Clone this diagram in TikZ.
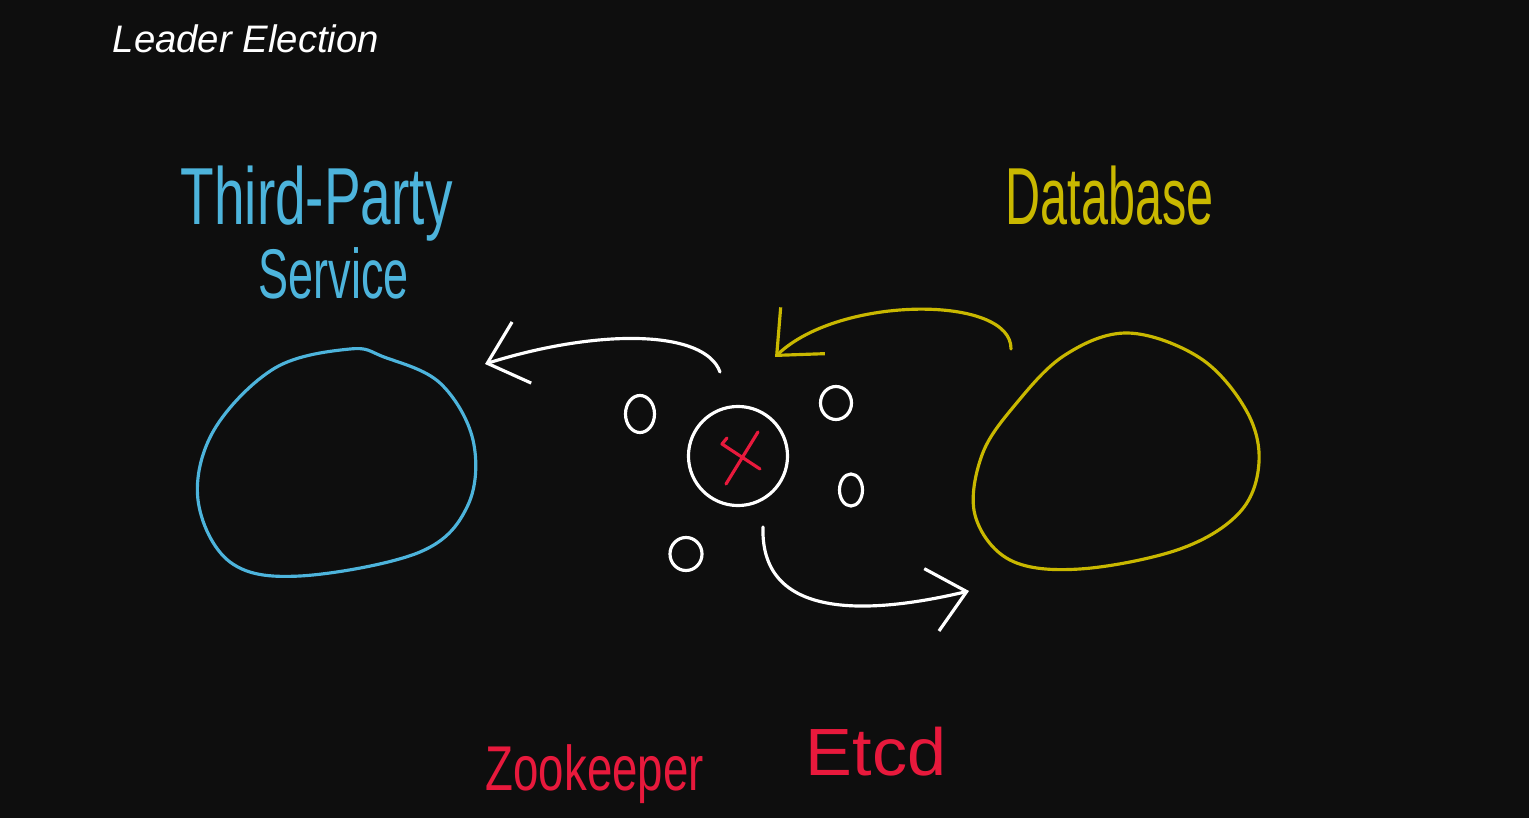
\documentclass[tikz,border=0pt]{standalone}
\usepackage{fontspec}
\setmainfont{Liberation Sans}
\usetikzlibrary{arrows.meta,shapes.geometric}
\definecolor{board}{HTML}{0E0E0E}
\definecolor{chalkblue}{HTML}{4DB4DC}
\definecolor{chalkyellow}{HTML}{C9B800}
\definecolor{chalkred}{HTML}{E8193C}
\tikzset{
  pen/.style={line width=0.9pt, line cap=round, line join=round},
  barb/.style={-{Straight Barb[length=3.6mm,width=6.4mm]}},
  scrawl/.style={inner sep=0pt, anchor=base west},
  pebble/.style={ellipse, draw=white, pen, inner sep=0pt},
}
\begin{document}
\begin{tikzpicture}[x=0.01cm,y=-0.01cm]
  \fill[board] (0,0) rectangle (1529,818);
  \useasboundingbox (0,0) rectangle (1529,818);

  \node[scrawl, white, font=\fontsize{10.9}{13}\selectfont\itshape] (title) at (112,52) {Leader Election};

  \node[scrawl, chalkblue, font=\fontsize{23}{26}\selectfont] (tpsname) at (180,225) {\scalebox{0.68}[1]{Third-Party}};
  \node[scrawl, chalkblue, font=\fontsize{20}{24}\selectfont] (tpsname2) at (258,298) {\scalebox{0.64}[1]{Service}};
  \node[scrawl, chalkyellow, font=\fontsize{23}{26}\selectfont] (dbname) at (1005,225) {\scalebox{0.6}[1]{Database}};
  \node[scrawl, chalkred, font=\fontsize{18}{22}\selectfont] (zkname) at (485,790) {\scalebox{0.72}[1]{Zookeeper}};
  \node[scrawl, chalkred, font=\fontsize{19}{22}\selectfont] (etcdname) at (805,775) {\scalebox{1.05}[1]{Etcd}};

  \draw[pen, chalkblue] plot[smooth cycle, tension=0.6] coordinates {(350,349) (384,357) (440,383) (473,440) (468,505) (420,552) (300,576) (230,562) (198,500) (214,430) (275,368)};
  \draw[pen, chalkyellow] plot[smooth cycle, tension=0.6] coordinates {(1128,333) (1200,358) (1246,410) (1259,462) (1240,512) (1180,549) (1080,569) (1010,560) (975,515) (982,455) (1015,405) (1065,355)};

  \node[circle, draw=white, pen, minimum size=0.99cm] (leader) at (738,456) {};
  \draw[pen, chalkred] (726,484) -- (758,432);
  \draw[pen, chalkred] (727,438) -- (722,444) -- (760,469);

  \node[pebble, minimum width=0.29cm, minimum height=0.37cm] (p1) at (640,414) {};
  \node[pebble, minimum width=0.31cm, minimum height=0.33cm] (p2) at (836,403) {};
  \node[pebble, minimum width=0.23cm, minimum height=0.32cm] (p3) at (851,490) {};
  \node[pebble, minimum width=0.32cm, minimum height=0.33cm] (p4) at (686,554) {};

  \coordinate (tosvc) at (720,372);
  \coordinate (svc) at (485,364);
  \coordinate (fromdb) at (1011,349);
  \coordinate (todb) at (775,357);
  \coordinate (tozk) at (763,527);
  \coordinate (db) at (969,591);

  \draw[pen, white, barb] (tosvc) .. controls (705,330) and (600,328) .. (svc);
  \draw[pen, chalkyellow, barb] (fromdb) .. controls (1012,295) and (840,295) .. (todb);
  \draw[pen, white, barb] (tozk) .. controls (760,625) and (880,612) .. (db);
\end{tikzpicture}
\end{document}
